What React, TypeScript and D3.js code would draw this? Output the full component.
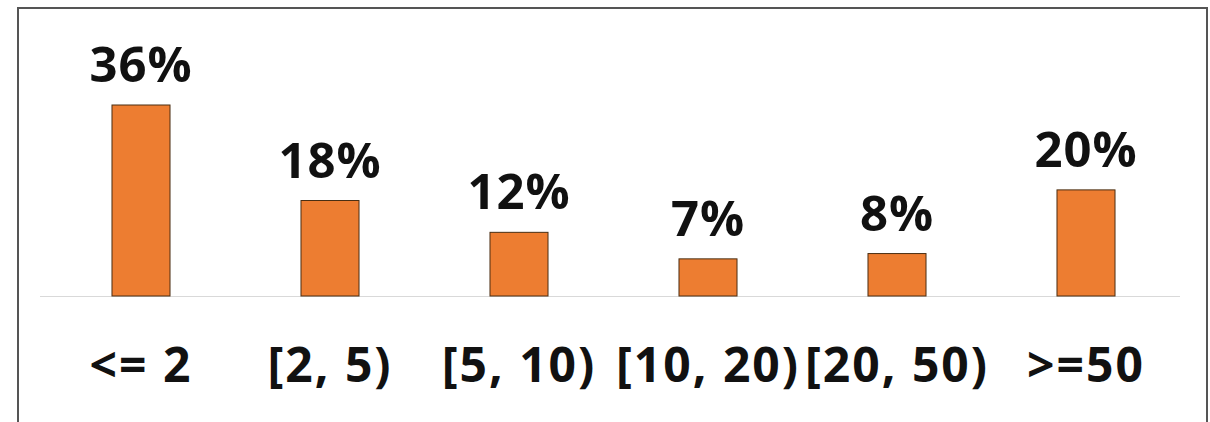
import React from "react";
import * as d3 from "d3";

const categories = ["<= 2", "[2, 5)", "[5, 10)", "[10, 20)", "[20, 50)", ">=50"];
const values = [36, 18, 12, 7, 8, 20];
const labels = ["36%", "18%", "12%", "7%", "8%", "20%"];

const W = 1210;
const H = 422;

export default function App() {
  const x = d3
    .scaleBand<string>()
    .domain(categories)
    .range([46.5, 1180.5])
    .paddingInner(0.693)
    .paddingOuter(0.3465);
  const y = d3.scaleLinear().domain([0, 36]).range([296, 105]);
  const font = "'Open Sans', sans-serif";

  return (
    <svg
      width={W}
      height={H}
      style={{ position: "absolute", left: 0, top: 0, background: "#fff" }}
    >
      <rect x={18} y={8} width={1189} height={430} fill="#fff" stroke="#555" strokeWidth={2} />
      <line x1={40} x2={1180} y1={y(0) + 0.5} y2={y(0) + 0.5} stroke="#d9d9d9" strokeWidth={1} />
      {categories.map((c, i) => {
        const bx = x(c)!;
        const bw = x.bandwidth();
        const top = y(values[i]);
        return (
          <g key={c}>
            <rect
              x={bx}
              y={top}
              width={bw}
              height={y(0) - top}
              fill="#ED7D31"
              stroke="#4a2e12"
              strokeWidth={1}
            />
            <text
              x={bx + bw / 2}
              y={top - 23}
              textAnchor="middle"
              fontFamily={font}
              fontWeight={700}
              fontSize={49}
              letterSpacing={1}
              fill="#111"
            >
              {labels[i]}
            </text>
            <text
              x={bx + bw / 2}
              y={382}
              textAnchor="middle"
              fontFamily={font}
              fontWeight={700}
              fontSize={48}
              letterSpacing={2}
              fill="#111"
            >
              {c}
            </text>
          </g>
        );
      })}
    </svg>
  );
}
